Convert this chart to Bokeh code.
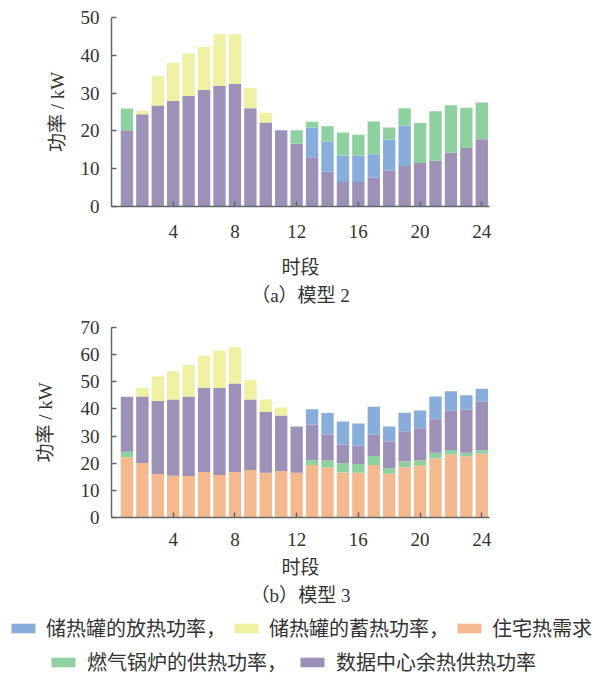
from bokeh.plotting import figure
from bokeh.models import ColumnDataSource, Legend, LegendItem, Title, FixedTicker, Range1d
from bokeh.layouts import column, row
from bokeh.embed import file_html
from bokeh.resources import INLINE

hours = list(range(1, 25))

# Model 2 (chart a)
dc_a = [20.2, 24.4, 26.7, 28.0, 29.2, 30.8, 31.9, 32.5, 26.0, 22.2, 20.2, 16.6,
        13.0, 9.2, 6.5, 6.5, 7.6, 9.5, 10.7, 11.5, 12.1, 14.2, 15.5, 17.8]
charge_a = [0, 1.0, 7.9, 10.0, 11.3, 11.4, 13.7, 13.1, 5.4, 2.6, 0, 0,
            0, 0, 0, 0, 0, 0, 0, 0, 0, 0, 0, 0]
discharge_a = [0, 0, 0, 0, 0, 0, 0, 0, 0, 0, 0, 0,
               7.9, 8.0, 7.0, 7.0, 6.2, 8.2, 10.7, 0, 0, 0, 0, 0]
boiler_a = [5.7, 0, 0, 0, 0, 0, 0, 0, 0, 0, 0, 3.6,
            1.5, 4.0, 6.1, 5.5, 8.7, 3.2, 4.6, 10.6, 13.1, 12.6, 10.6, 9.7]

# Model 3 (chart b)
demand_b = [22.2, 20.1, 16.0, 15.4, 15.3, 16.8, 15.7, 16.8, 17.5, 16.5, 17.1, 16.5,
            19.3, 18.4, 16.6, 16.5, 19.3, 16.1, 18.5, 19.1, 21.8, 23.2, 22.6, 23.5]
boiler_b = [2.0, 0, 0, 0, 0, 0, 0, 0, 0, 0, 0, 0,
            1.8, 2.6, 3.4, 3.2, 3.4, 2.1, 2.2, 2.0, 2.1, 1.7, 1.3, 1.3]
dc_b = [20.3, 24.5, 26.9, 28.1, 29.3, 31.0, 32.0, 32.6, 26.0, 22.4, 20.5, 17.0,
        13.2, 9.6, 6.9, 6.8, 7.9, 9.8, 11.1, 11.8, 12.3, 14.4, 15.8, 17.8]
charge_b = [0, 3.2, 9.1, 10.4, 11.7, 11.8, 13.7, 13.3, 7.2, 4.6, 2.9, 0,
            0, 0, 0, 0, 0, 0, 0, 0, 0, 0, 0, 0]
discharge_b = [0, 0, 0, 0, 0, 0, 0, 0, 0, 0, 0, 0,
               5.6, 7.9, 8.5, 8.1, 10.2, 5.5, 6.8, 6.5, 8.4, 7.2, 5.3, 4.8]

x_ticks = [4, 8, 12, 16, 20, 24]
y_ticks_a = [0, 10, 20, 30, 40, 50]
y_ticks_b = [0, 10, 20, 30, 40, 50, 60, 70]

labels = ["储热罐的放热功率，", "储热罐的蓄热功率，", "住宅热需求",
          "燃气锅炉的供热功率，", "数据中心余热供热功率"]

C_BLUE = "#89addb"
C_YELLOW = "#f0f0a2"
C_ORANGE = "#f5b990"
C_GREEN = "#8fd0a0"
C_PURPLE = "#9e91b7"

NUM_FONT = "'Liberation Serif', 'Noto Sans CJK SC'"
TXT = "#333333"
AX = "#666666"


def make_chart(data, stackers, colors, ymax, yticks, caption, height, bottom,
               tick_standoff, xlabel_standoff, ylabel_standoff, title_standoff):
    src = ColumnDataSource(data)
    p = figure(width=596, height=height, x_range=Range1d(0, 24.5),
               y_range=Range1d(0, ymax), output_backend="svg",
               toolbar_location=None, min_border_left=111, min_border_right=107,
               min_border_top=17, min_border_bottom=bottom)
    p.vbar_stack(stackers, x="hour", width=0.8, fill_color=colors,
                 line_color=None, source=src)
    p.outline_line_color = None
    p.xgrid.visible = False
    p.ygrid.visible = False
    p.background_fill_color = None
    p.border_fill_color = None
    for ax in (p.xaxis, p.yaxis):
        ax.axis_line_color = AX
        ax.axis_line_width = 1.5
        ax.major_tick_line_color = AX
        ax.major_tick_line_width = 1.5
        ax.major_tick_in = 5
        ax.major_tick_out = 0
        ax.minor_tick_line_color = None
        ax.major_label_text_font = NUM_FONT
        ax.major_label_text_font_size = "19px"
        ax.major_label_text_color = TXT
        ax.axis_label_text_font = NUM_FONT
        ax.axis_label_text_font_size = "19px"
        ax.axis_label_text_font_style = "normal"
        ax.axis_label_text_color = TXT
    p.xaxis.ticker = FixedTicker(ticks=x_ticks)
    p.yaxis.ticker = FixedTicker(ticks=yticks)
    p.xaxis.major_label_standoff = tick_standoff
    p.yaxis.major_label_standoff = 12
    p.xaxis.axis_label = "时段"
    p.yaxis.axis_label = "功率 / kW"
    p.xaxis.axis_label_standoff = xlabel_standoff
    p.yaxis.axis_label_standoff = ylabel_standoff
    t = Title(text=caption, align="center", text_font=NUM_FONT,
              text_font_size="19px", text_font_style="normal",
              text_color=TXT, standoff=title_standoff)
    p.add_layout(t, "below")
    return p


pa = make_chart(dict(hour=hours, dc=dc_a, charge=charge_a, discharge=discharge_a,
                     boiler=boiler_a),
                ["dc", "charge", "discharge", "boiler"],
                [C_PURPLE, C_YELLOW, C_BLUE, C_GREEN],
                50, y_ticks_a, "（a）模型 2", 310, 104, 18, 16, 10, 5)

pb = make_chart(dict(hour=hours, demand=demand_b, boiler=boiler_b, dc=dc_b,
                     charge=charge_b, discharge=discharge_b),
                ["demand", "boiler", "dc", "charge", "discharge"],
                [C_ORANGE, C_GREEN, C_PURPLE, C_YELLOW, C_BLUE],
                70, y_ticks_b, "（b）模型 3", 300, 93, 15, 8, 22, 5)

# legend panel
pl = figure(width=596, height=66, x_range=Range1d(0, 1), y_range=Range1d(0, 1),
            output_backend="svg", toolbar_location=None,
            x_axis_type=None, y_axis_type=None, min_border=0,
            min_border_left=0, min_border_right=0, min_border_top=0,
            min_border_bottom=0)
pl.outline_line_color = None
pl.xgrid.visible = False
pl.ygrid.visible = False
pl.background_fill_color = None
pl.border_fill_color = None

colors_leg = [C_BLUE, C_YELLOW, C_ORANGE, C_GREEN, C_PURPLE]
rends = [pl.vbar(x=[10], top=[10], bottom=[9], width=0.1, fill_color=c,
                 line_color=None) for c in colors_leg]
items = [LegendItem(label=l, renderers=[r]) for l, r in zip(labels, rends)]


def mk_legend(its, loc, spacing, standoff):
    lg = Legend(items=its, orientation="horizontal", location=loc,
                glyph_width=30, glyph_height=12, label_standoff=standoff,
                spacing=spacing, padding=0, margin=0, border_line_color=None,
                background_fill_alpha=0, label_text_font=NUM_FONT,
                label_text_font_size="20px", label_text_color=TXT,
                label_height=22)
    return lg


pl.add_layout(mk_legend(items[:3], (8, 34), 5, 8))
pl.add_layout(mk_legend(items[3:], (48, 0), 10, 9))

layout = column(column(pa, pb, spacing=0), row(pl, spacing=0), spacing=0)
open("out.html", "w").write(file_html(layout, INLINE))
